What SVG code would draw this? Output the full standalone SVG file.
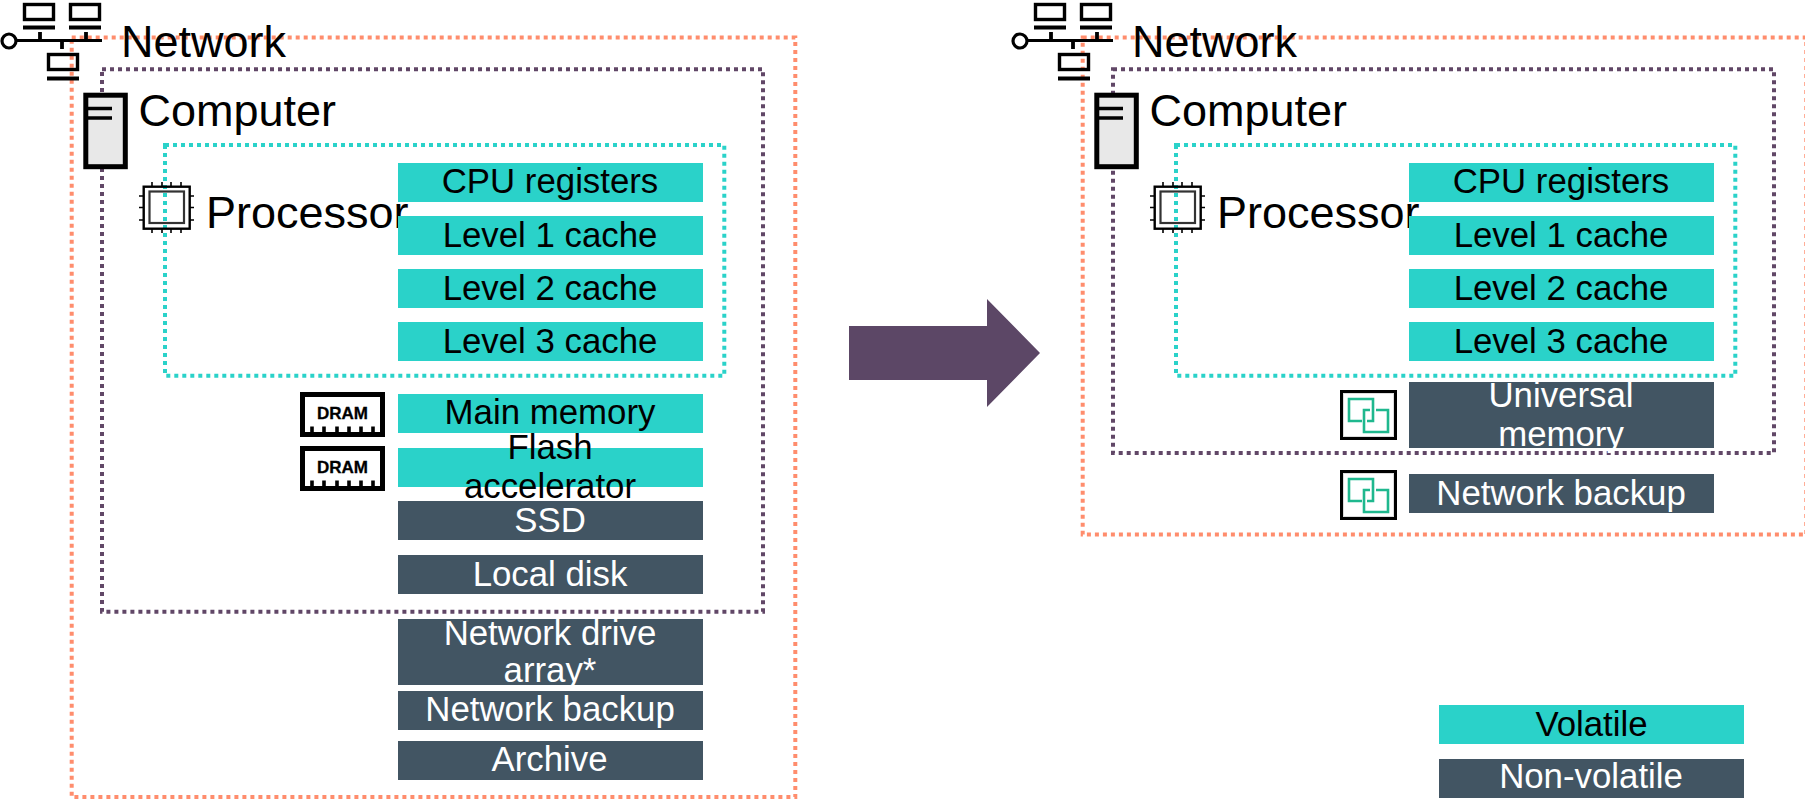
<svg xmlns="http://www.w3.org/2000/svg" width="1805" height="799" viewBox="0 0 1805 799">
<style>
text{font-family:"Liberation Sans",Arial,sans-serif}
.h{font-size:45px;fill:#000}
.b{font-size:34.8px;text-anchor:middle}
.k{fill:#000}.w{fill:#fff}
.t{fill:#2AD2C9}.d{fill:#425563}
.frame{fill:none;stroke-width:4;stroke-dasharray:4 4}
.o{stroke:#FF8D6D}.p{stroke:#614767}.c{stroke:#2AD2C9}
.i{fill:none;stroke:#000}
.dr{font-size:16.5px;font-weight:bold;text-anchor:middle;fill:#000;stroke:#000;stroke-width:.3}
.g{fill:none;stroke:#1FB88E;stroke-width:2.6}
</style>
<defs>
<g id="net" class="i">
<rect x="24.5" y="4.5" width="29" height="15" stroke-width="3.4"/><path d="M23 27.5H55M40 32V40" stroke-width="3.8"/>
<rect x="70.500" y="4.500" width="29" height="15" stroke-width="3.4"/><path d="M69 27.5H101M86 32V40" stroke-width="3.8"/>
<rect x="48.500" y="54.500" width="29" height="15" stroke-width="3.4"/><path d="M47 78.500H79M62 41V49" stroke-width="3.800"/>
<circle cx="9" cy="41" r="7" stroke-width="3.200"/><path d="M16 40.500H102" stroke-width="3.200"/>
</g>
<g id="comp">
<rect x="85.800" y="95.200" width="39.500" height="71.500" fill="#E8E8E8" stroke="#000" stroke-width="5"/>
<path d="M88 108.500H112M88 118H112" stroke="#000" stroke-width="3.500" fill="none"/>
</g>
<g id="chip" class="i">
<rect x="143.700" y="186.700" width="46" height="42" stroke-width="2.400"/>
<rect x="149.500" y="191.500" width="34.500" height="31.500" stroke="#333" stroke-width="2.200"/>
<path d="M152 182V186M162 182V186M171 182V186M181 182V186M152 229V233M162 229V233M171 229V233M181 229V233M139 196H143M139 207.500H143M139 220H143M190 196H194M190 207.500H194M190 220H194" stroke-width="1.600"/>
</g>
<g id="dramf" class="i">
<rect x="302.500" y="394.500" width="80" height="40" stroke-width="5"/>
<path d="M312 426.500V434M324 426.500V434M337 426.500V434M349 426.500V434M361 426.500V434M373 426.500V434" stroke-width="3.600"/>
</g>
<g id="rep">
<rect x="1341.500" y="391.500" width="54" height="47" fill="#fff" stroke="#000" stroke-width="3"/>
<rect x="1343.500" y="393.500" width="50" height="43" fill="none" stroke="#DDD" stroke-width="1"/>
<path class="g" d="M1362 421H1349V399H1373V421H1367"/>
<path class="g" d="M1376 410H1388V432H1364V410H1370"/>
</g>
</defs>

<g id="connectors">
<polygon id="transition-arrow" points="849,326 987,326 987,299 1040,353 987,407 987,380 849,380" fill="#5C4766"/>
</g>

<g id="left-network"><rect class="frame o" x="71.700" y="37.500" width="723.600" height="759.500"/><use href="#net"/><text class="h" x="121" y="56.500">Network</text></g>
<g id="left-computer"><rect class="frame p" x="102" y="69.300" width="661" height="542.400"/><use href="#comp"/><text class="h" x="138.500" y="126">Computer</text></g>
<g id="left-processor"><rect class="frame c" x="165" y="145" width="559.300" height="230.700"/><use href="#chip"/><text class="h" x="206" y="228">Processor</text></g>
<g id="left-dram-1"><use href="#dramf"/><text class="dr" x="342.500" y="418.500" textLength="51" lengthAdjust="spacingAndGlyphs">DRAM</text></g>
<g id="left-dram-2"><use href="#dramf" y="54"/><text class="dr" x="342.500" y="472.500" textLength="51" lengthAdjust="spacingAndGlyphs">DRAM</text></g>
<g id="left-cpu-registers"><rect class="t" x="398" y="163" width="305" height="39"/><text class="b k" x="550" y="193">CPU registers</text></g>
<g id="left-l1"><rect class="t" x="398" y="216" width="305" height="39"/><text class="b k" x="550" y="246.500">Level 1 cache</text></g>
<g id="left-l2"><rect class="t" x="398" y="269" width="305" height="39"/><text class="b k" x="550" y="300">Level 2 cache</text></g>
<g id="left-l3"><rect class="t" x="398" y="322" width="305" height="39"/><text class="b k" x="550" y="353">Level 3 cache</text></g>
<g id="left-main-memory"><rect class="t" x="398" y="394" width="305" height="39"/><text class="b k" x="550" y="424">Main memory</text></g>
<g id="left-flash"><rect class="t" x="398" y="448" width="305" height="39"/><text class="b k" x="550" y="459">Flash</text><text class="b k" x="550" y="498">accelerator</text></g>
<g id="left-ssd"><rect class="d" x="398" y="501" width="305" height="39"/><text class="b w" x="550" y="532">SSD</text></g>
<g id="left-local-disk"><rect class="d" x="398" y="555" width="305" height="39"/><text class="b w" x="550" y="586">Local disk</text></g>
<g id="left-network-drive"><rect class="d" x="398" y="619" width="305" height="66"/><text class="b w" x="550" y="645">Network drive</text><text class="b w" x="550" y="682">array*</text></g>
<g id="left-network-backup"><rect class="d" x="398" y="691" width="305" height="39"/><text class="b w" x="550" y="721">Network backup</text></g>
<g id="left-archive"><rect class="d" x="398" y="741" width="305" height="39"/><text class="b w" x="549.500" y="771">Archive</text></g>

<g id="right-network"><rect class="frame o" x="1082.700" y="37.500" width="723.600" height="497"/><use href="#net" x="1011"/><text class="h" x="1132" y="56.500">Network</text></g>
<g id="right-computer"><rect class="frame p" x="1113" y="69.300" width="661" height="383.700"/><use href="#comp" x="1011"/><text class="h" x="1149.500" y="126">Computer</text></g>
<g id="right-processor"><rect class="frame c" x="1176" y="145" width="559.300" height="230.700"/><use href="#chip" x="1011"/><text class="h" x="1217" y="228">Processor</text></g>
<g id="right-cpu-registers"><rect class="t" x="1409" y="163" width="305" height="39"/><text class="b k" x="1561" y="193">CPU registers</text></g>
<g id="right-l1"><rect class="t" x="1409" y="216" width="305" height="39"/><text class="b k" x="1561" y="246.500">Level 1 cache</text></g>
<g id="right-l2"><rect class="t" x="1409" y="269" width="305" height="39"/><text class="b k" x="1561" y="300">Level 2 cache</text></g>
<g id="right-l3"><rect class="t" x="1409" y="322" width="305" height="39"/><text class="b k" x="1561" y="353">Level 3 cache</text></g>
<g id="right-replica-1"><use href="#rep"/></g>
<g id="right-replica-2"><use href="#rep" y="80"/></g>
<g id="right-universal-memory"><rect class="d" x="1409" y="382" width="305" height="66"/><text class="b w" x="1561" y="407">Universal</text><text class="b w" x="1561" y="446">memory</text></g>
<g id="right-network-backup"><rect class="d" x="1409" y="474" width="305" height="39"/><text class="b w" x="1561" y="505">Network backup</text></g>

<g id="legend-volatile"><rect class="t" x="1439" y="705" width="305" height="39"/><text class="b k" x="1591.500" y="735.500">Volatile</text></g>
<g id="legend-non-volatile"><rect class="d" x="1439" y="759" width="305" height="39"/><text class="b w" x="1591" y="788">Non-volatile</text></g>
</svg>
